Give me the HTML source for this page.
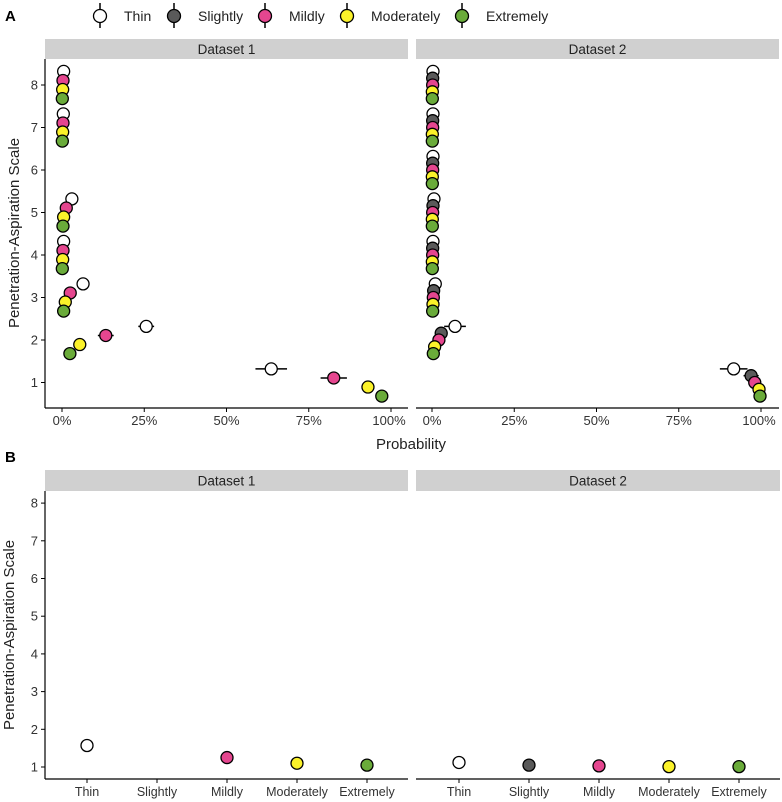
<!DOCTYPE html>
<html><head><meta charset="utf-8"><style>
body{margin:0;background:#fff;}
svg{display:block;font-family:"Liberation Sans",Arial,sans-serif;}
</style></head><body>
<svg id="chart" width="782" height="802" xmlns="http://www.w3.org/2000/svg"></svg>
<script>
const groups = ["Thin","Slightly","Mildly","Moderately","Extremely"];
const colors = ["#ffffff","#5a5a5a","#e5468f","#fbf22a","#6aab3a"];
const scaleLevels = [1,2,3,4,5,6,7,8];
const xTicks = [0,25,50,75,100];
const xTickLabels = ["0%","25%","50%","75%","100%"];
const yTicks = [1,2,3,4,5,6,7,8];
// Panel A: probabilities (%) per group per level (index = level-1); null = absent
const d1Thin     = [63.6,25.6,6.4,0.5,3.0,null,0.4,0.5];
const d1Slightly = [null,null,null,null,null,null,null,null];
const d1Mildly   = [82.6,13.3,2.5,0.3,1.3,null,0.3,0.3];
const d1Moder    = [93.0,5.4,1.0,0.2,0.5,null,0.2,0.2];
const d1Extreme  = [97.2,2.4,0.5,0.1,0.3,null,0.1,0.1];
const d1Err      = [[4.8,2.4,0.5,0,0,0,0,0],[0,0,0,0,0,0,0,0],[4,2.4,0.5,0,0,0,0,0],[1.5,0.5,0,0,0,0,0,0],[1.5,0.5,0,0,0,0,0,0]];
const d2Thin     = [91.7,7.0,1.0,0.3,0.6,0.3,0.3,0.3];
const d2Slightly = [97.0,2.8,0.5,0.2,0.3,0.2,0.2,0.2];
const d2Mildly   = [98.1,2.1,0.4,0.2,0.2,0.2,0.2,0.2];
const d2Moder    = [99.4,0.8,0.3,0.1,0.1,0.1,0.1,0.1];
const d2Extreme  = [99.7,0.4,0.2,0.1,0.1,0.1,0.1,0.1];
const d2Err      = [[4.2,3.3,0.5,0,0,0,0,0],[2.3,0.8,0,0,0,0,0,0],[1,0.5,0,0,0,0,0,0],[0.5,0.3,0,0,0,0,0,0],[0.3,0.2,0,0,0,0,0,0]];
// Panel B: expected scale per group
const b1Mean = [1.57,null,1.25,1.10,1.05];
const b2Mean = [1.12,1.05,1.03,1.01,1.01];

const NS="http://www.w3.org/2000/svg";
const svg=document.getElementById('chart');
function el(tag,attrs,parent,text){const e=document.createElementNS(NS,tag);for(const k in attrs)e.setAttribute(k,attrs[k]);if(text!==undefined)e.textContent=text;(parent||svg).appendChild(e);return e;}

// Legend
const legX=[100,174,265,347,462];
groups.forEach((g,i)=>{
  const gg=el('g',{});
  
  
  el('line',{x1:legX[i],x2:legX[i],y1:3,y2:28,stroke:'#000','stroke-width':1.5},gg);
  el('circle',{cx:legX[i],cy:16,r:6.5,fill:colors[i],stroke:'#000','stroke-width':1.3},gg);
  el('text',{x:legX[i]+24,y:21,'font-size':14,fill:'#222'},gg,g);
});
const la=el('text',{x:5,y:21,'font-size':15,'font-weight':'bold'},svg,'A');

const lb=el('text',{x:5,y:462,'font-size':15,'font-weight':'bold'},svg,'B');


function strip(x0,x1,y0,y1,label){
  const g=el('g',{});
  
  
  el('rect',{x:x0,y:y0,width:x1-x0,height:y1-y0,fill:'#d0d0d0'},g);
  el('text',{x:(x0+x1)/2,y:(y0+y1)/2+5,'font-size':13.5,'text-anchor':'middle',fill:'#222'},g,label);
}
function yAxis(x,top,bottom,yScale,drawLabels){
  const g=el('g',{});
  
  
  el('line',{x1:x,x2:x,y1:top,y2:bottom,stroke:'#000','stroke-width':1.2},g);
  yTicks.forEach(t=>{const y=yScale(t);
    el('line',{x1:x-4,x2:x,y1:y,y2:y,stroke:'#000'},g);
    if(drawLabels) el('text',{x:x-7,y:y+4.5,'font-size':13,'text-anchor':'end',fill:'#333'},g,String(t));});
}

// Panel A
const aYs=v=>382.5-(v-1)*42.5;
const panelsA=[{x0:45,x1:408,z:62,o:391,label:'Dataset 1',series:[d1Thin,d1Slightly,d1Mildly,d1Moder,d1Extreme],err:d1Err},
               {x0:416,x1:779,z:432,o:761,label:'Dataset 2',series:[d2Thin,d2Slightly,d2Mildly,d2Moder,d2Extreme],err:d2Err}];
panelsA.forEach((p,pi)=>{
  strip(p.x0,p.x1,39,59,p.label);
  const xs=v=>p.z+(p.o-p.z)*v/100;
  if(pi===0) yAxis(p.x0,59,408,aYs,true);
  const ax=el('g',{});
  
  
  el('line',{x1:p.x0,x2:p.x1,y1:408,y2:408,stroke:'#000','stroke-width':1.2},ax);
  xTicks.forEach((t,i)=>{const x=xs(t);
    el('line',{x1:x,x2:x,y1:408,y2:412,stroke:'#000'},ax);
    el('text',{x:x+(i===4?-2:0),y:425,'font-size':13,'text-anchor':'middle',fill:'#333'},ax,xTickLabels[i]);});
  const present=p.series.map((s,i)=>s.some(v=>v!==null)?i:-1).filter(i=>i>=0);
  const n=present.length;
  const offs=present.map((_,k)=>0.32-(0.64*k/(n-1)));
  scaleLevels.forEach((lvl,li)=>{
    present.forEach((gi,k)=>{
      const v=p.series[gi][li]; if(v===null) return;
      const y=aYs(lvl+offs[k]); const x=xs(v); const e=p.err[gi][li];
      const g=el('g',{});
      
      
      if(e>0) el('line',{x1:xs(v-e),x2:xs(Math.min(v+e,101)),y1:y,y2:y,stroke:'#000','stroke-width':1.5},g);
      el('circle',{cx:x,cy:y,r:6,fill:colors[gi],stroke:'#000','stroke-width':1.3},g);
    });
  });
});
const xt=el('text',{x:411,y:449,'font-size':15,'text-anchor':'middle',fill:'#222'},svg,'Probability');

const yt1=el('text',{x:0,y:0,'font-size':15,'text-anchor':'middle',fill:'#222',transform:'translate(19,233) rotate(-90)'},svg,'Penetration-Aspiration Scale');


// Panel B
const bYs=v=>767-(v-1)*37.7;
const panelsB=[{x0:45,x1:408,first:87,label:'Dataset 1',vals:b1Mean},{x0:416,x1:780,first:459,label:'Dataset 2',vals:b2Mean}];
panelsB.forEach((p,pi)=>{
  strip(p.x0,p.x1,470,491,p.label);
  const xs=i=>p.first+i*70;
  if(pi===0) yAxis(p.x0,491,779,bYs,true);
  const ax=el('g',{});
  
  
  el('line',{x1:p.x0,x2:p.x1,y1:779,y2:779,stroke:'#000','stroke-width':1.2},ax);
  groups.forEach((g,i)=>{const x=xs(i);
    el('line',{x1:x,x2:x,y1:779,y2:783,stroke:'#000'},ax);
    el('text',{x:x,y:796,'font-size':12.5,'text-anchor':'middle',fill:'#333'},ax,g);});
  p.vals.forEach((v,i)=>{ if(v===null) return;
    const c=el('circle',{cx:xs(i),cy:bYs(v),r:6,fill:colors[i],stroke:'#000','stroke-width':1.3});
    
    
  });
});
const yt2=el('text',{x:0,y:0,'font-size':15,'text-anchor':'middle',fill:'#222',transform:'translate(14,635) rotate(-90)'},svg,'Penetration-Aspiration Scale');

</script>
</body></html>
